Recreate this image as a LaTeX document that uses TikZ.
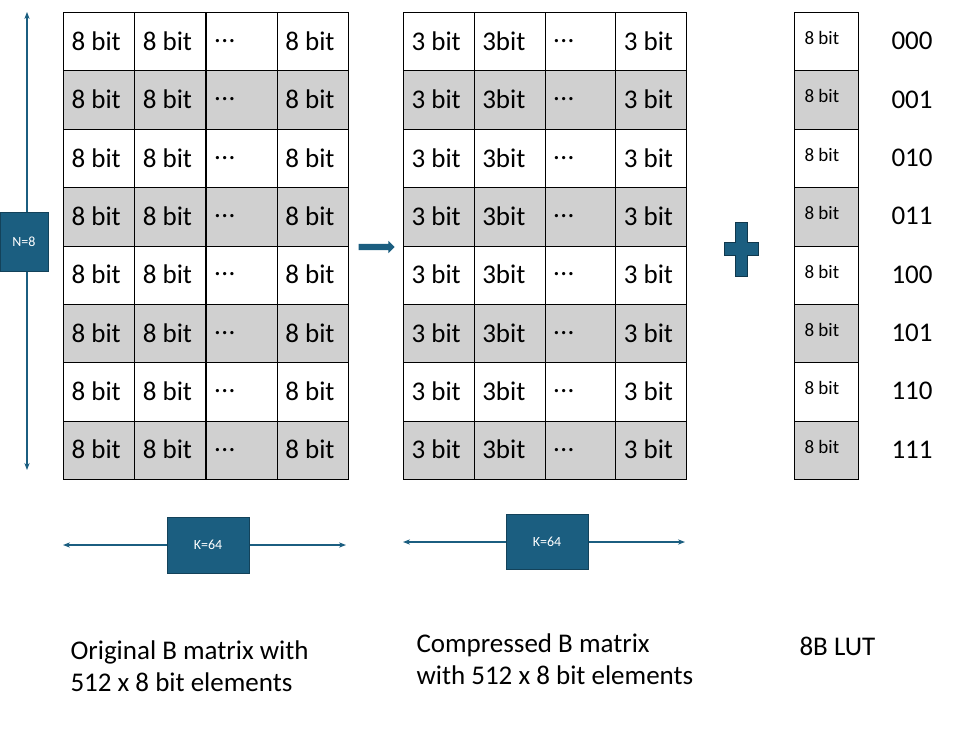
\documentclass[tikz,border=0pt]{standalone}
\usepackage{fontspec}
\setmainfont{Carlito}
\usetikzlibrary{arrows.meta,shapes.arrows}
\definecolor{bl}{HTML}{1B5E80}
\definecolor{gr}{HTML}{D0D0D0}
\newcommand{\mydots}{.\kern0.5pt.\kern0.5pt.}
\begin{document}
\begin{tikzpicture}[x=1pt,y=-1pt,
  cell/.style={draw=black,line width=0.8pt,minimum width=71pt,minimum height=58.4pt,anchor=north west,inner sep=0pt},
  txt/.style={font=\fontsize{27}{30}\selectfont,anchor=west},
  small/.style={font=\fontsize{19}{22}\selectfont,anchor=west},
  bbox/.style={fill=bl,draw=bl!70!black,text=white,font=\fontsize{14}{16}\selectfont},
  dim/.style={bl,line width=1.3pt,{Stealth[length=7pt]}-{Stealth[length=7pt]}},
  lbl/.style={font=\fontsize{27}{32}\selectfont,anchor=west,align=left}]
\useasboundingbox (0,0) rectangle (957,733);
\foreach \r in {0,...,7}{
  \pgfmathsetmacro{\y}{12+\r*58.375}
  \pgfmathtruncatemacro{\g}{mod(\r,2)}
  \ifnum\g=1 \def\fc{gr}\else\def\fc{white}\fi
  \foreach \c/\t [count=\i] in {0/8 bit,1/8 bit,2/\mydots,3/8 bit}{
    \node[cell,fill=\fc] (a\r\i) at (63+\c*71.25,\y) {};
    \node[txt] at (68+\c*71.25,\y+29) {\t};}
  \foreach \c/\t [count=\i] in {0/3 bit,1/3bit,2/\mydots,3/3 bit}{
    \node[cell,fill=\fc] (b\r\i) at (403+\c*70.75,\y) {};
    \node[txt] at (408+\c*70.75,\y+29) {\t};}
  \node[cell,fill=\fc,minimum width=64pt] (l\r) at (794,\y) {};
  \node[small] at (801,\y+26) {8 bit};
}
\foreach \r/\t in {0/000,1/001,2/010,3/011,4/100,5/101,6/110,7/111}
  \node[txt] at (888,{12+\r*58.375+29}) {\t};
\coordinate (vt) at (27,12); \coordinate (vb) at (27,470);
\draw[dim] (vt) -- (vb);
\node[bbox,minimum width=48pt,minimum height=59pt] (N) at (24,242) {N=8};
\coordinate (h1a) at (63,545); \coordinate (h1b) at (346,545);
\draw[dim] (h1a) -- (h1b);
\node[bbox,minimum width=82pt,minimum height=56pt] (K1) at (208,545) {K=64};
\coordinate (h2a) at (403,542); \coordinate (h2b) at (685,542);
\draw[dim] (h2a) -- (h2b);
\node[bbox,minimum width=82pt,minimum height=55pt] (K2) at (547,542) {K=64};
\node[single arrow,fill=bl,draw=none,minimum height=36pt,single arrow head extend=3pt,inner sep=3pt] (arr) at (375,247) {};
\fill[bl,draw=bl!60!black,line width=0.8pt] (735,222) -- (747,222) -- (747,242) -- (758,242) -- (758,255) -- (747,255) -- (747,276) -- (735,276) -- (735,255) -- (724,255) -- (724,242) -- (735,242) -- cycle;
\node[lbl] (t1) at (67,666) {Original B matrix with\\512 x 8 bit elements};
\node[lbl] (t2) at (413,659) {Compressed B matrix\\with 512 x 8 bit elements};
\node[lbl] (t3) at (796,646) {8B LUT};
\end{tikzpicture}
\end{document}
